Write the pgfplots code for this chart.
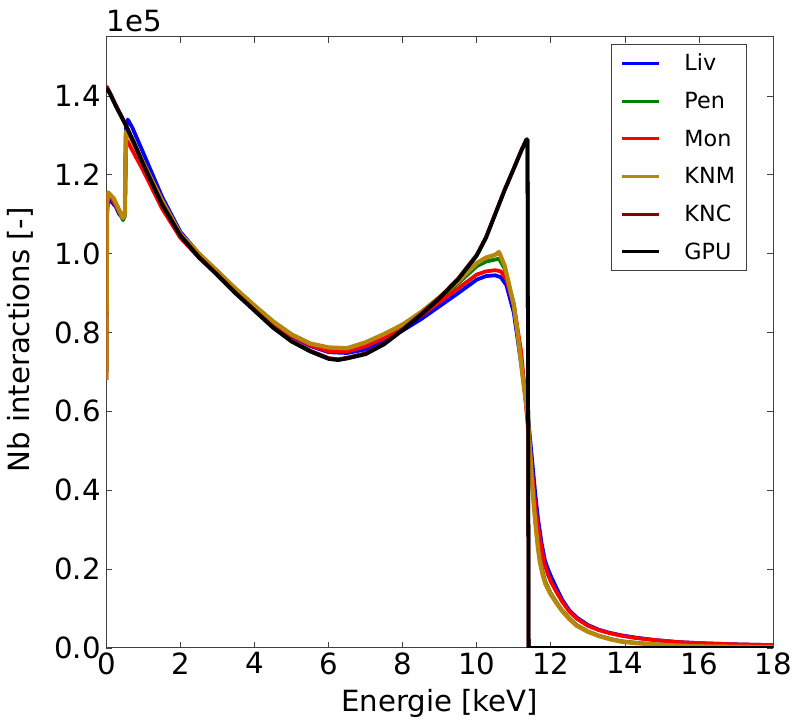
\documentclass[border=0pt]{standalone}
\usepackage{pgfplots}
\pgfplotsset{compat=1.18}
\usepackage{fontspec}
\setmainfont{DejaVu Sans}
\definecolor{cLiv}{rgb}{0,0,1}
\definecolor{cPen}{rgb}{0,0.5,0}
\definecolor{cMon}{rgb}{1,0,0}
\definecolor{cKNM}{rgb}{0.722,0.525,0.043}
\definecolor{cKNC}{rgb}{0.545,0,0}
\begin{document}
\begin{tikzpicture}
\begin{axis}[
  name=ax,
  scale only axis,
  width=671bp, height=615bp,
  xmin=0, xmax=18, ymin=0, ymax=1.55,
  xtick={0,2,...,18},
  ytick={0,0.2,...,1.4},
  /pgf/number format/assume math mode=true,
  yticklabel style={/pgf/number format/.cd, fixed, fixed zerofill, precision=1},
  xticklabel style={/pgf/number format/.cd, fixed},
  tick label style={font=\fontsize{29.5}{34}\selectfont},
  label style={font=\fontsize{29.5}{34}\selectfont},
  tick align=inside,
  major tick length=6bp,
  minor tick num=0,
  axis line style={line width=1bp, black!75},
  every tick/.style={black!75, line width=0.8bp},
  xticklabel shift=1bp,
  yticklabel shift=2bp,
  xlabel={Energie [keV]},
  ylabel={Nb interactions [-]},
  xlabel style={at={(axis description cs:0.5,-0.091)}, anchor=center},
  ylabel style={at={(axis description cs:-0.1295,0.504)}, anchor=center},
  legend style={at={(1,1)}, anchor=north east, xshift=-26bp, yshift=-7bp,
    font=\fontsize{22.5}{26}\selectfont, draw=black!75, line width=0.8bp,
    inner xsep=10bp, inner ysep=8bp, row sep=16bp, column sep=22bp,
    cells={anchor=west}},
  legend image code/.code={\draw[#1, line width=3bp] (0bp,0bp) -- (37bp,0bp);},
  legend cell align=left,
  clip=true,
  every axis plot/.append style={line width=3.8bp, line join=round},
]
% Liv
\addplot[cLiv] coordinates {
(0,0.68) (0.02,1.10) (0.05,1.14) (0.15,1.13) (0.25,1.12) (0.35,1.10) (0.45,1.09) (0.50,1.10) (0.53,1.32) (0.58,1.34) (0.7,1.32) (1.0,1.255) (1.5,1.145) (2.0,1.055) (2.5,1.0) (3.0,0.955) (3.5,0.908) (4.0,0.862) (4.5,0.822) (5.0,0.790) (5.5,0.766) (6.0,0.750) (6.5,0.748) (7.0,0.757) (7.5,0.778) (8.0,0.805) (8.5,0.834) (9.0,0.867) (9.5,0.900) (10.0,0.934) (10.25,0.943) (10.5,0.945) (10.65,0.940) (10.8,0.920) (11.0,0.850) (11.2,0.72) (11.38,0.59) (11.45,0.52) (11.5,0.47) (11.58,0.39) (11.65,0.33) (11.75,0.265) (11.84,0.222) (11.92,0.200) (12.0,0.182) (12.15,0.152) (12.3,0.123) (12.5,0.095) (12.7,0.077) (13.0,0.058) (13.3,0.046) (13.6,0.038) (13.9,0.032) (14.3,0.026) (14.8,0.020) (15.4,0.015) (16.0,0.012) (17.0,0.009) (18.0,0.007)
};
% Pen
\addplot[cPen] coordinates {
(0,0.68) (0.02,1.12) (0.05,1.15) (0.2,1.135) (0.3,1.115) (0.45,1.085) (0.50,1.095) (0.53,1.31) (0.6,1.305) (1.0,1.23) (1.5,1.135) (2.0,1.05) (2.5,1.0) (3.0,0.955) (3.5,0.91) (4.0,0.868) (4.5,0.828) (5.0,0.795) (5.5,0.772) (6.0,0.760) (6.5,0.757) (7.0,0.772) (7.5,0.793) (8.0,0.820) (8.5,0.850) (9.0,0.885) (9.5,0.925) (10.0,0.968) (10.25,0.980) (10.5,0.985) (10.6,0.987) (10.75,0.962) (11.0,0.87) (11.1,0.80) (11.25,0.69) (11.38,0.585) (11.48,0.44) (11.55,0.36) (11.6,0.31) (11.65,0.265) (11.7,0.228) (11.78,0.192) (11.85,0.168) (12.0,0.138) (12.15,0.116) (12.3,0.096) (12.5,0.075) (12.7,0.058) (13.0,0.042) (13.3,0.031) (13.6,0.023) (13.9,0.017) (14.3,0.013) (14.8,0.009) (15.4,0.006) (16.0,0.004) (18.0,0.002)
};
% Mon
\addplot[cMon] coordinates {
(0,0.68) (0.02,1.12) (0.05,1.15) (0.15,1.14) (0.3,1.115) (0.45,1.09) (0.50,1.10) (0.53,1.29) (0.6,1.28) (1.0,1.21) (1.5,1.115) (2.0,1.04) (2.5,0.99) (3.0,0.948) (3.5,0.905) (4.0,0.862) (4.5,0.824) (5.0,0.792) (5.5,0.768) (6.0,0.752) (6.5,0.752) (7.0,0.765) (7.5,0.786) (8.0,0.812) (8.5,0.843) (9.0,0.878) (9.5,0.912) (10.0,0.947) (10.25,0.955) (10.5,0.958) (10.65,0.955) (10.8,0.935) (11.0,0.870) (11.2,0.75) (11.38,0.56) (11.45,0.49) (11.5,0.44) (11.58,0.36) (11.65,0.31) (11.75,0.25) (11.84,0.21) (11.92,0.186) (12.0,0.168) (12.15,0.142) (12.3,0.118) (12.5,0.092) (12.7,0.074) (13.0,0.056) (13.3,0.045) (13.6,0.037) (13.9,0.031) (14.3,0.025) (14.8,0.020) (15.4,0.015) (16.0,0.012) (17.0,0.009) (18.0,0.007)
};
% KNM
\addplot[cKNM, line width=4.3bp] coordinates {
(0,0.68) (0.02,1.13) (0.05,1.155) (0.2,1.14) (0.3,1.12) (0.45,1.09) (0.50,1.10) (0.53,1.31) (0.6,1.305) (1.0,1.23) (1.5,1.135) (2.0,1.05) (2.5,1.0) (3.0,0.955) (3.5,0.91) (4.0,0.868) (4.5,0.828) (5.0,0.795) (5.5,0.772) (6.0,0.762) (6.5,0.760) (7.0,0.775) (7.5,0.796) (8.0,0.820) (8.5,0.852) (9.0,0.890) (9.5,0.930) (10.0,0.976) (10.25,0.990) (10.5,0.997) (10.6,1.004) (10.75,0.970) (11.0,0.870) (11.1,0.80) (11.25,0.68) (11.38,0.585) (11.48,0.434) (11.55,0.35) (11.6,0.30) (11.65,0.255) (11.7,0.220) (11.78,0.185) (11.85,0.163) (12.0,0.135) (12.15,0.114) (12.3,0.094) (12.5,0.073) (12.7,0.056) (13.0,0.041) (13.3,0.030) (13.6,0.022) (13.9,0.016) (14.3,0.012) (14.8,0.009) (15.4,0.006) (16.0,0.004) (18.0,0.002)
};
% KNC
\addplot[cKNC] coordinates {
(0,1.425) (0.1,1.408) (0.25,1.378) (0.5,1.332) (0.75,1.282) (1.0,1.227) (1.25,1.177) (1.5,1.127) (1.75,1.087) (2.0,1.047) (2.5,0.992) (3.0,0.947) (3.5,0.900) (4.0,0.857) (4.5,0.814) (5.0,0.779) (5.5,0.754) (6.0,0.735) (6.25,0.732) (6.5,0.736) (7.0,0.747) (7.5,0.772) (8.0,0.808) (8.5,0.847) (9.0,0.889) (9.5,0.937) (10.0,0.997) (10.25,1.042) (10.5,1.102) (10.75,1.162) (11.0,1.217) (11.2,1.262) (11.34,1.29) (11.37,1.29) (11.40,0) (18,0)
};
% GPU
\addplot[black] coordinates {
(0,1.420) (0.1,1.405) (0.25,1.375) (0.5,1.330) (0.75,1.280) (1.0,1.225) (1.25,1.175) (1.5,1.125) (1.75,1.085) (2.0,1.045) (2.5,0.990) (3.0,0.945) (3.5,0.898) (4.0,0.855) (4.5,0.812) (5.0,0.777) (5.5,0.752) (6.0,0.733) (6.25,0.730) (6.5,0.734) (7.0,0.745) (7.5,0.770) (8.0,0.806) (8.5,0.845) (9.0,0.887) (9.5,0.935) (10.0,0.995) (10.25,1.040) (10.5,1.100) (10.75,1.160) (11.0,1.215) (11.2,1.260) (11.34,1.288) (11.37,1.288) (11.40,0) (18,0)
};
\legend{Liv,Pen,Mon,KNM,KNC,GPU}
\end{axis}
\node[anchor=base west, font=\fontsize{29.5}{34}\selectfont, inner sep=0pt] at ([yshift=5bp]ax.north west) {1e5};
\path (ax.south west) ++(-107bp,-73bp) coordinate (bl);
\path (ax.north east) ++(17bp,37bp) coordinate (tr);
\path (bl) rectangle (tr);
\end{tikzpicture}
\end{document}
